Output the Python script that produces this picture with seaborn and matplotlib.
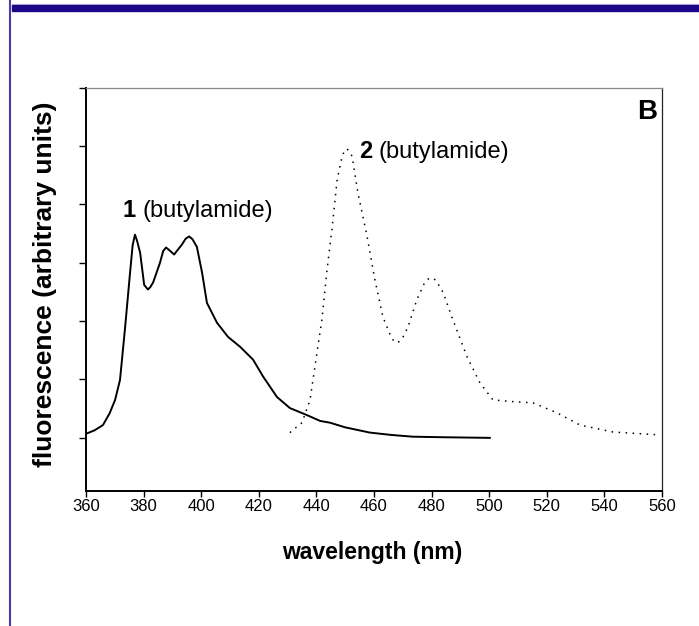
import matplotlib
matplotlib.use("Agg")
import matplotlib.pyplot as plt
import seaborn as sns
import pandas as pd
from matplotlib.lines import Line2D
from matplotlib.patches import Rectangle

# ---- data ----
wl_1 = [360, 363.0, 365.9, 368.2, 370.1, 371.8, 373.5, 375.3, 376.2, 377.0, 377.7, 378.8,
        380.2, 381.5, 382.3, 383.3, 385.7, 386.8, 387.8, 388.8, 390.6, 393.3, 394.6, 395.8,
        397.0, 398.5, 400.3, 402.0, 405.5, 409.3, 413.5, 418.0, 421.5, 426.3, 430.8,
        436.7, 441.3, 444.7, 450.0, 458.6, 466.0, 473.5, 485.0, 500.3]
fl_1 = [1.07, 1.13, 1.22, 1.42, 1.65, 1.99, 2.85, 3.83, 4.30, 4.48, 4.38, 4.17,
        3.62, 3.54, 3.58, 3.66, 4.00, 4.20, 4.26, 4.22, 4.14, 4.31, 4.41, 4.45,
        4.40, 4.27, 3.83, 3.31, 2.97, 2.73, 2.56, 2.34, 2.05, 1.70, 1.51,
        1.39, 1.29, 1.26, 1.18, 1.09, 1.05, 1.02, 1.01, 1.00]

wl_2 = [430.8, 435.0, 437.8, 440.2, 441.9, 443.7, 445.4, 447.2, 448.9, 449.8, 450.6,
        451.5, 452.4, 454.4, 457.6, 460.3, 463.1, 465.5, 466.8, 468.3, 469.8, 471.8,
        474.9, 477.5, 478.8, 480.1, 481.5, 484.0, 487.4, 492.3, 496.8, 501.3, 508.3,
        515.2, 523.5, 531.5, 543.0, 559.3]
fl_2 = [1.09, 1.26, 1.65, 2.46, 3.02, 3.88, 4.57, 5.42, 5.82, 5.92, 5.95,
        5.90, 5.82, 5.20, 4.45, 3.71, 3.07, 2.78, 2.66, 2.63, 2.70, 2.90,
        3.37, 3.65, 3.72, 3.74, 3.70, 3.49, 3.02, 2.39, 1.94, 1.65, 1.62,
        1.60, 1.43, 1.22, 1.10, 1.05]

x_ticks = [360, 380, 400, 420, 440, 460, 480, 500, 520, 540, 560]
y_ticks = [1, 2, 3, 4, 5, 6, 7]

label_1 = ("1", "(butylamide)")
label_2 = ("2", "(butylamide)")
panel = "B"
x_title = "wavelength (nm)"
y_title = "fluorescence (arbitrary units)"

# ---- style ----
sns.set_style("ticks")
plt.rcParams['font.family'] = ['Liberation Sans', 'DejaVu Sans']
plt.rcParams['text.color'] = 'black'
plt.rcParams['axes.labelcolor'] = 'black'
plt.rcParams['xtick.color'] = 'black'
plt.rcParams['ytick.color'] = 'black'

fig = plt.figure(figsize=(6.99, 6.26), dpi=100)
ax = fig.add_axes([86 / 699, 1 - 491 / 626, 576 / 699, 403.5 / 626])

df1 = pd.DataFrame({"wl": wl_1, "fl": fl_1})
df2 = pd.DataFrame({"wl": wl_2, "fl": fl_2})
sns.lineplot(data=df1, x="wl", y="fl", ax=ax, color="black", linewidth=1.4,
             sort=False, estimator=None)
sns.lineplot(data=df2, x="wl", y="fl", ax=ax, color="black", linewidth=1.1,
             linestyle=(0, (1, 3.6)), sort=False, estimator=None)

ax.set_xlim(360, 560)
ax.set_ylim(0.09, 7.0)
ax.set_xticks(x_ticks)
ax.set_xticklabels([str(t) for t in x_ticks], fontsize=12)
ax.set_yticks(y_ticks)
ax.set_yticklabels([])
ax.tick_params(axis='x', direction='out', length=4, width=1, pad=2)
ax.tick_params(axis='y', direction='out', length=5, width=1)

for side in ['left', 'bottom']:
    ax.spines[side].set_linewidth(1.4)
    ax.spines[side].set_color('black')
ax.spines['right'].set_linewidth(0.9)
ax.spines['right'].set_color('#222222')
ax.spines['top'].set_linewidth(0.9)
ax.spines['top'].set_color('#888888')

ax.set_xlabel(x_title, fontsize=16.5, fontweight='bold')
ax.xaxis.label.set_va('center')
ax.xaxis.set_label_coords((372.5 - 86) / 576, (491 - 552) / 403.5)
ax.set_ylabel(y_title, fontsize=19, fontweight='bold')
ax.yaxis.label.set_va('center')
ax.yaxis.set_label_coords((45 - 86) / 576, (491 - 284) / 403.5)

# annotations
ax.text(372.6, 4.78, label_1[0], fontsize=17, fontweight='bold', ha='left', va='baseline')
ax.text(379.5, 4.78, label_1[1], fontsize=17, ha='left', va='baseline')
ax.text(454.9, 5.80, label_2[0], fontsize=17, fontweight='bold', ha='left', va='baseline')
ax.text(461.5, 5.80, label_2[1], fontsize=17, ha='left', va='baseline')
ax.text(0.991, 0.922, panel, transform=ax.transAxes, fontsize=20, fontweight='bold',
        ha='right', va='baseline')

# page decorations (blue rule and margin line)
fig.patches.append(Rectangle((12 / 699, 1 - 11 / 626), 1, 6 / 626, transform=fig.transFigure,
                             color='#1a0888', zorder=5))
fig.add_artist(Line2D([10 / 699, 10 / 699], [0, 1], transform=fig.transFigure,
                      color='#4a3aaa', linewidth=1.5))
fig.add_artist(Line2D([12 / 699, 1], [1 - 4 / 626, 1 - 4 / 626], transform=fig.transFigure,
                      color='#c8c4e8', linewidth=0.8))

fig.savefig("out.png", dpi=100)
